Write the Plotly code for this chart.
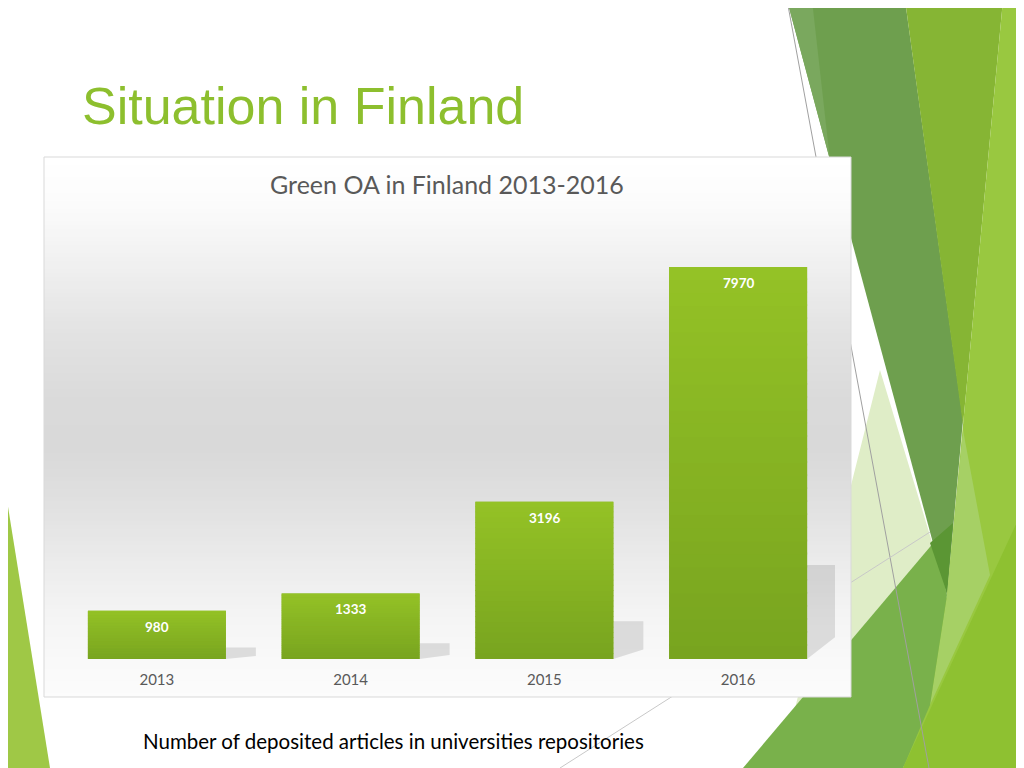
import plotly.graph_objects as go

# data
years = ["2013", "2014", "2015", "2016"]
articles = [980, 1333, 3196, 7970]

slide_title = "Situation in Finland"
chart_title = "Green OA in Finland 2013-2016"
caption = "Number of deposited articles in universities repositories"

# the page body has an 8px margin, so the figure is shrunk by that much
OFF = 8
W, H = 1024 - OFF, 768 - OFF


def px(x):
    return (x - OFF) / W


def py(y):
    return 1 - (y - OFF) / H


def poly(points, color, opacity=1.0):
    path = "M " + " L ".join(f"{px(x):.5f},{py(y):.5f}" for x, y in points) + " Z"
    return dict(type="path", xref="paper", yref="paper", path=path,
                fillcolor=color, opacity=opacity, line=dict(width=0), layer="below")


def mix(c1, c2, t):
    return "rgb(%d,%d,%d)" % tuple(round(a + (b - a) * t) for a, b in zip(c1, c2))


shapes = []

# decorative slide background
shapes.append(poly([(880, 370), (948, 595), (743, 768), (780, 768)], "#dfedc7"))
shapes.append(poly([(787, 0), (905, 0), (963, 420), (947, 595)], "#6e9f4e"))
shapes.append(poly([(787, 0), (812, 0), (830, 160)], "#7aa85e"))
shapes.append(poly([(905, 0), (1003, 0), (963, 425)], "#86b534"))
shapes.append(poly([(1003, 0), (1024, 0), (1024, 768), (903, 768), (947, 595), (963, 425)], "#99c840"))
shapes.append(poly([(963, 430), (990, 575), (930, 705), (947, 595)], "#a6d065"))
shapes.append(poly([(743, 768), (935, 541), (947, 595), (930, 705), (903, 768)], "#79b14b"))
shapes.append(poly([(1024, 507), (1024, 768), (903, 768)], "#8ec131"))
shapes.append(poly([(930, 543), (953, 523), (947, 593)], "#5b9634"))
shapes.append(poly([(0, 457), (0, 768), (50, 768)], "#9fc846"))
shapes.append(dict(type="line", xref="paper", yref="paper", x0=px(787), y0=py(0), x1=px(929), y1=py(768),
                   line=dict(color="#a0a0a0", width=1), layer="below"))
shapes.append(dict(type="line", xref="paper", yref="paper", x0=px(560), y0=py(768), x1=px(930), y1=py(532),
                   line=dict(color="#c8c8c8", width=1), layer="below"))

# chart box gradient
stops = [(157, 255), (200, 252), (260, 241), (330, 227), (400, 218), (450, 217),
         (500, 224), (560, 235), (620, 245), (697, 252)]


def grey_at(y):
    for (y0, g0), (y1, g1) in zip(stops, stops[1:]):
        if y0 <= y <= y1:
            return g0 + (g1 - g0) * (y - y0) / (y1 - y0)
    return 255


step = 4
for y in range(157, 697, step):
    g = round(grey_at(y + step / 2))
    shapes.append(dict(type="rect", xref="paper", yref="paper", x0=px(44), x1=px(851),
                       y0=py(min(y + step + 1, 697)), y1=py(y),
                       fillcolor=f"rgb({g},{g},{g})", line=dict(width=0), layer="below"))
shapes.append(dict(type="rect", xref="paper", yref="paper", x0=px(44), x1=px(851), y0=py(697), y1=py(157),
                   fillcolor="rgba(0,0,0,0)", line=dict(color="#d9d9d9", width=1), layer="below"))

# bar shadows and gradients, placed in data coordinates
half = 0.356
top_c, bot_c = (148, 194, 38), (120, 164, 31)
n = 30
for i, v in enumerate(articles):
    xr = i + half
    shapes.append(dict(type="path", xref="x", yref="y",
                       path=f"M {xr},{0} L {xr},{v*0.24} L {xr+0.155},{v*0.24} L {xr+0.155},{v*0.06} Z",
                       fillcolor="rgba(0,0,0,0.11)", line=dict(width=0), layer="below"))
    for k in range(n):
        t = (k + 0.5) / n
        shapes.append(dict(type="rect", xref="x", yref="y", x0=i - half, x1=i + half,
                           y0=v * k / n, y1=min(v * (k + 1.15) / n, v),
                           fillcolor=mix(bot_c, top_c, t), line=dict(width=0), layer="above"))

fig = go.Figure(go.Bar(
    x=list(range(len(years))), y=articles, width=2 * half,
    marker=dict(color="#86b324", line=dict(width=0)),
    hovertext=years, hoverinfo="text+y",
))

annotations = []
for i, v in enumerate(articles):
    annotations.append(dict(x=i, y=v, xref="x", yref="y", text=str(v), showarrow=False,
                            yshift=-16, font=dict(family="Lato", size=13.5, color="white", weight="bold")))

annotations.append(dict(x=px(80), y=py(106), xref="paper", yref="paper", text=slide_title,
                        showarrow=False, xanchor="left", yanchor="middle",
                        font=dict(family="Liberation Sans", size=52, color="#8dbf2e")))
annotations.append(dict(x=px(447), y=py(184), xref="paper", yref="paper", text=chart_title,
                        showarrow=False, xanchor="center", yanchor="middle",
                        font=dict(family="Lato", size=25, color="#595959")))
annotations.append(dict(x=px(393), y=py(741), xref="paper", yref="paper", text=caption,
                        showarrow=False, xanchor="center", yanchor="middle",
                        font=dict(family="Lato", size=20.5, color="#000000")))

fig.update_layout(
    width=W, height=H,
    margin=dict(l=0, r=0, t=0, b=0),
    paper_bgcolor="white", plot_bgcolor="rgba(0,0,0,0)",
    showlegend=False,
    shapes=shapes,
    annotations=annotations,
    xaxis=dict(domain=[px(60), px(835)], range=[-0.5, 3.5],
               tickvals=list(range(len(years))), ticktext=years,
               showgrid=False, zeroline=False, showline=False, ticks="",
               tickfont=dict(family="Lato", size=15, color="#595959"), ticklabelstandoff=10),
    yaxis=dict(domain=[py(659), py(216.4)], range=[0, 9000], visible=False),
)

fig.write_html("out.html")
